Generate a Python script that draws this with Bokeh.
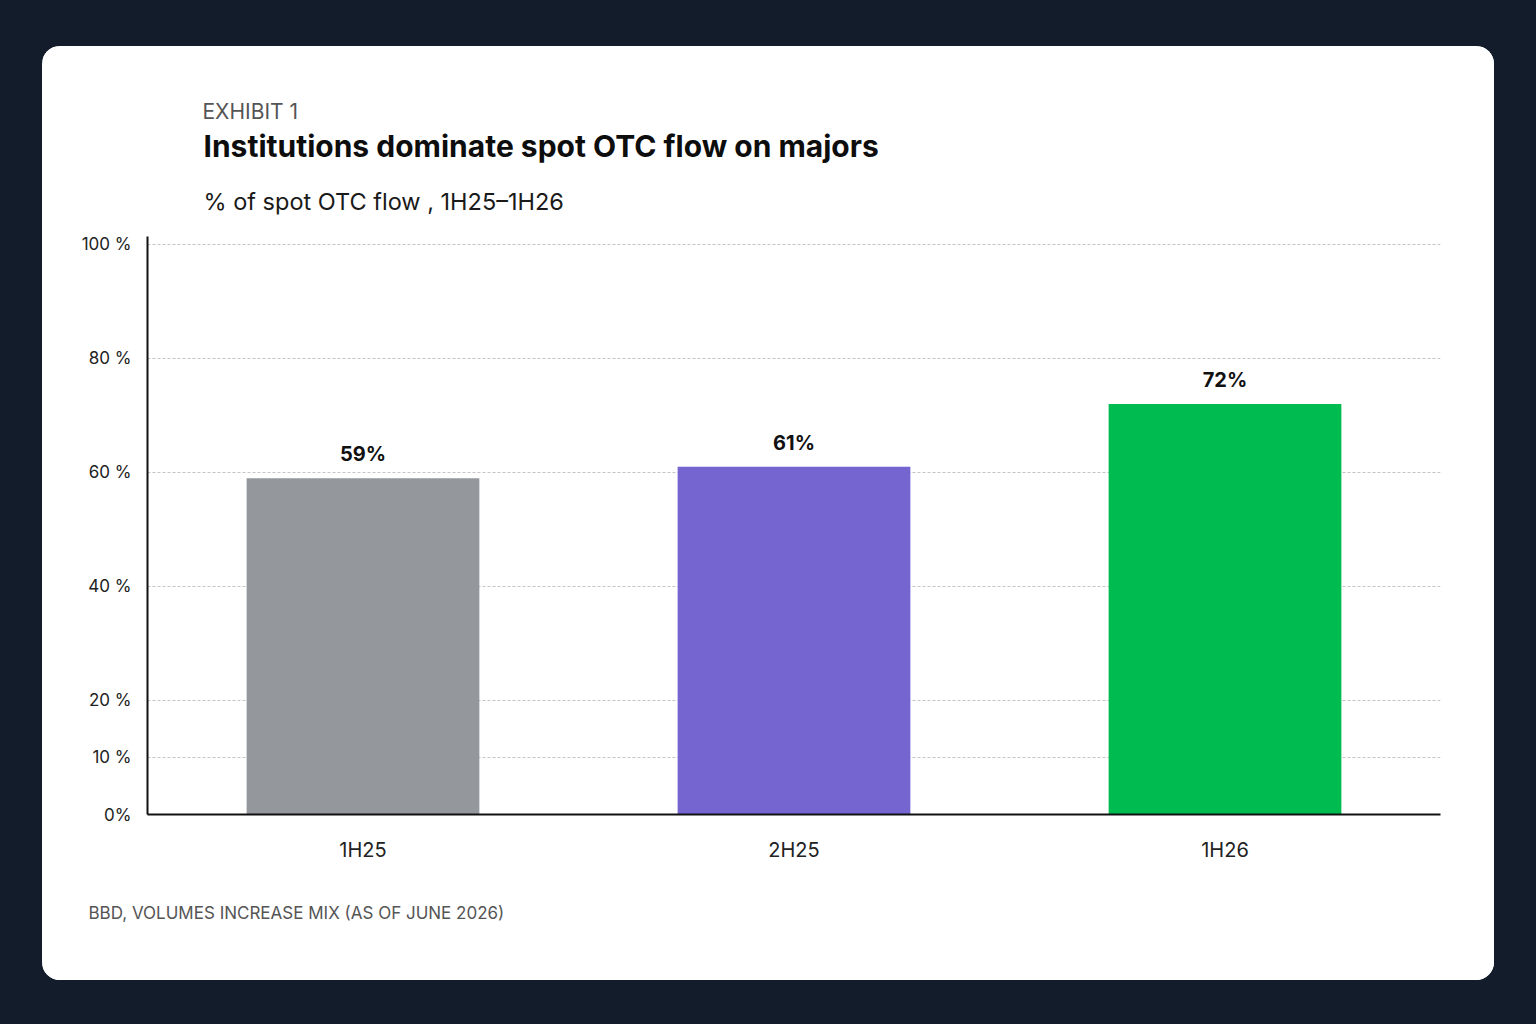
from bokeh.plotting import figure
from bokeh.models import ColumnDataSource, Title, FixedTicker, Range1d, Column
from bokeh.core.properties import value
from bokeh.embed import file_html
from bokeh.resources import INLINE

categories = ["1H25", "2H25", "1H26"]
shares = [59, 61, 72]
share_labels = ["59%", "61%", "72%"]
bar_colors = ["#94979c", "#7565d0", "#00bb50"]
tick_values = [0, 10, 20, 40, 60, 80, 100]
tick_labels = ["0%", "10 %", "20 %", "40 %", "60 %", "80 %", "100 %"]

FONT = "Inter"
BG = "#131c2b"

src = ColumnDataSource(dict(cat=categories, val=shares, lab=share_labels, col=bar_colors))

p = figure(
    x_range=categories,
    y_range=Range1d(0, 101.4),
    width=1452, height=934,
    output_backend="svg", toolbar_location=None,
    min_border_left=105, min_border_right=54,
    min_border_top=190, min_border_bottom=166,
    background_fill_color="white", border_fill_color="white",
    margin=(46, 0, 0, 42),
    styles={"border-radius": "18px", "overflow": "hidden",
            "background-color": "white"},
)
p.outline_line_color = None
p.outline_line_alpha = 0

p.vbar(x="cat", top="val", width=0.54, color="col", line_color=None, source=src)
p.text(x="cat", y="val", text="lab", source=src, text_align="center",
       text_baseline="bottom", y_offset=-12, text_font=value(FONT),
       text_font_size="20px", text_font_style="bold", text_color="#111111")

p.yaxis.ticker = FixedTicker(ticks=tick_values)
p.yaxis.major_label_overrides = {v: l for v, l in zip(tick_values, tick_labels)}
p.yaxis.major_tick_line_color = None
p.yaxis.major_tick_out = 0
p.yaxis.major_tick_in = 0
p.yaxis.minor_tick_line_color = None
p.yaxis.axis_line_color = "#111111"
p.yaxis.axis_line_width = 2
p.yaxis.major_label_standoff = 16
p.yaxis.major_label_text_font = FONT
p.yaxis.major_label_text_font_size = "17px"
p.yaxis.major_label_text_color = "#222222"

p.xaxis.major_tick_line_color = None
p.xaxis.major_tick_out = 0
p.xaxis.major_tick_in = 0
p.xaxis.axis_line_color = "#111111"
p.xaxis.axis_line_width = 2
p.xaxis.major_label_standoff = 23
p.xaxis.major_label_text_font = FONT
p.xaxis.major_label_text_font_size = "20px"
p.xaxis.major_label_text_color = "#222222"

p.xgrid.grid_line_color = None
p.ygrid.ticker = FixedTicker(ticks=tick_values)
p.ygrid.grid_line_color = "#c4c4c4"
p.ygrid.grid_line_dash = "3 2"
p.ygrid.grid_line_width = 1

# header (added from the frame outward) and footnote
p.add_layout(Title(text="% of spot OTC flow , 1H25\u20131H26", align="left", offset=56,
                   standoff=42, text_font=FONT, text_font_size="23.5px",
                   text_font_style="normal", text_color="#1a1a1a"), "above")
p.add_layout(Title(text="Institutions dominate spot OTC flow on majors", align="left",
                   offset=56, standoff=0, text_font=FONT, text_font_size="30px",
                   text_font_style="bold", text_color="#0d0d0d"), "above")
p.add_layout(Title(text="EXHIBIT 1", align="left", offset=55, standoff=4,
                   text_font=FONT, text_font_size="21px", text_font_style="normal",
                   text_color="#555555"), "above")
p.add_layout(Title(text="BBD, VOLUMES INCREASE MIX (AS OF JUNE 2026)", align="left",
                   offset=-59, standoff=72, text_font=FONT, text_font_size="17px",
                   text_font_style="normal", text_color="#555555"), "below")

root = Column(children=[p], width=1536, height=1024,
              styles={"background-color": BG})

html = file_html(root, INLINE)
html = html.replace("</head>",
                    "<style>html,body{background:%s !important;}</style></head>" % BG, 1)
open("out.html", "w").write(html)
